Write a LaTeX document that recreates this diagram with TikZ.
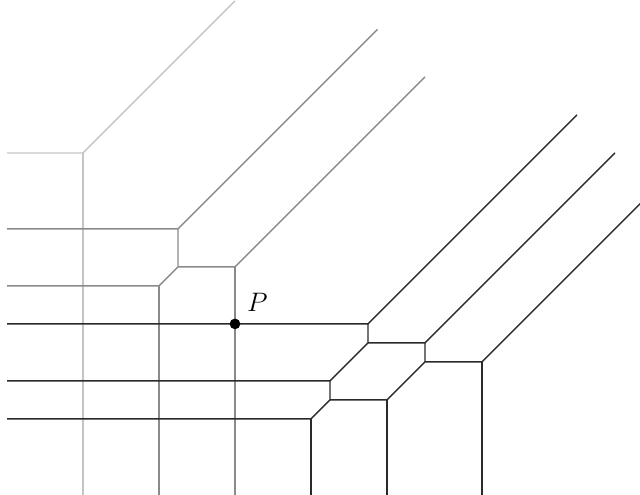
\documentclass[tikz,border=0pt]{standalone}
\usetikzlibrary{calc}
\definecolor{curveone}{HTML}{C4C4C4}
\definecolor{curvetwo}{HTML}{8A8A8A}
\definecolor{curvethree}{HTML}{2A2A2A}
\begin{document}
\begin{tikzpicture}[x=0.3cm,y=0.3cm,
  lineone/.style={draw=curveone,line width=0.6pt},
  linetwo/.style={draw=curvetwo,line width=0.6pt},
  linethree/.style={draw=curvethree,line width=0.6pt},
  ptdot/.style={circle,fill=black,inner sep=0pt,minimum size=4.8pt}]
\useasboundingbox (-12.37,-9.0) rectangle (21.32,17.05);
\clip (-12.37,-9.0) rectangle (21.32,17.05);
% curve 1 (line)
\coordinate (f) at (-8,9);
\coordinate (fL) at (-12,9);
\coordinate (fD) at (-8,-9);
\coordinate (fU) at (0,17);
\draw[lineone] (fL) -- (f) -- (fU);
\draw[lineone] (f) -- (fD);
% curve 2 (conic)
\coordinate (d1) at (-3,5);
\coordinate (d2) at (-3,3);
\coordinate (d3) at (0,3);
\coordinate (e1) at (-4,2);
\coordinate (d1L) at (-12,5);
\coordinate (d1U) at (7.5,15.5);
\coordinate (d3U) at (10,13);
\coordinate (d3D) at (0,-9);
\coordinate (e1L) at (-12,2);
\coordinate (e1D) at (-4,-9);
\draw[linetwo] (d1L) -- (d1) -- (d1U);
\draw[linetwo] (d1) -- (d2) -- (d3) -- (d3U);
\draw[linetwo] (d3) -- (d3D);
\draw[linetwo] (d2) -- (e1) -- (e1L);
\draw[linetwo] (e1) -- (e1D);
% curve 3 (cubic)
\coordinate (a1) at (7,0);
\coordinate (a2) at (7,-1);
\coordinate (a3) at (10,-1);
\coordinate (a4) at (10,-2);
\coordinate (a5) at (13,-2);
\coordinate (b1) at (5,-3);
\coordinate (b2) at (5,-4);
\coordinate (b3) at (8,-4);
\coordinate (c1) at (4,-5);
\coordinate (a1L) at (-12,0);
\coordinate (a1U) at (18,11);
\coordinate (a3U) at (20,9);
\coordinate (a5U) at (21.8,6.8);
\coordinate (a5D) at (13,-9);
\coordinate (b1L) at (-12,-3);
\coordinate (b3D) at (8,-9);
\coordinate (c1L) at (-12,-5);
\coordinate (c1D) at (4,-9);
\draw[linethree] (a1L) -- (a1) -- (a1U);
\draw[linethree] (a1) -- (a2) -- (a3) -- (a3U);
\draw[linethree] (a3) -- (a4) -- (a5) -- (a5U);
\draw[linethree] (a5) -- (a5D);
\draw[linethree] (a2) -- (b1) -- (b1L);
\draw[linethree] (b1) -- (b2) -- (b3) -- (a4);
\draw[linethree] (b3) -- (b3D);
\draw[linethree] (b2) -- (c1) -- (c1L);
\draw[linethree] (c1) -- (c1D);
% point P
\node[ptdot] (P) at (0,0) {};
\node (Plabel) at (1.18,1.13) {\large $P$};
\end{tikzpicture}
\end{document}
